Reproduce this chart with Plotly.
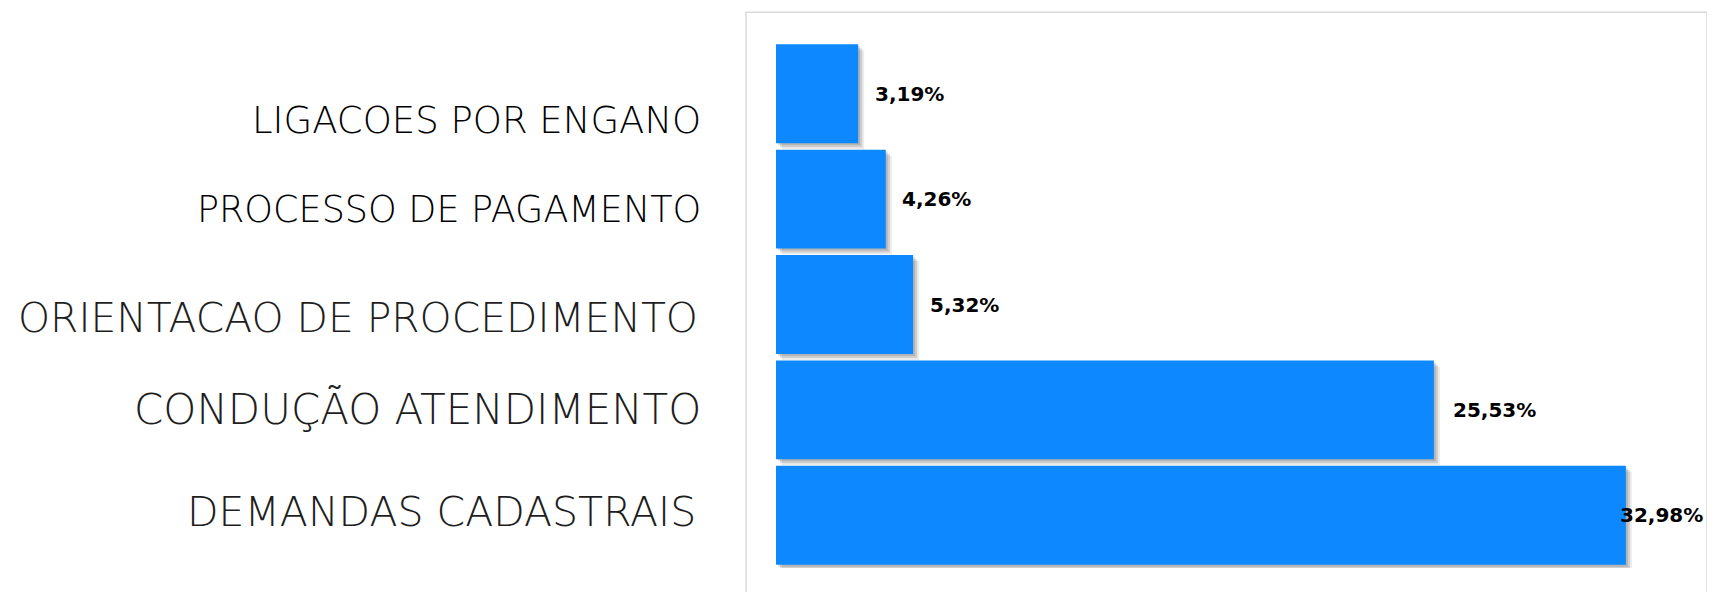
import plotly.graph_objects as go

# data, bottom to top
categories = [
    "DEMANDAS CADASTRAIS",
    "CONDUÇÃO ATENDIMENTO",
    "ORIENTACAO DE PROCEDIMENTO",
    "PROCESSO DE PAGAMENTO",
    "LIGACOES POR ENGANO",
]
shares = [32.98, 25.53, 5.32, 4.26, 3.19]

BAR_COLOR = "#0D88FF"
W, H = 1715, 592
PAGE_PAD = 8  # default body margin of the html page
PLOT_L, PLOT_R = 776, 1706
PLOT_T, PLOT_B = 40.75, 568.25
PX_PER_UNIT = 25.77
BAR_W = 0.938
ROW_PX = (PLOT_B - PLOT_T) / len(categories)

# label styling per row (bottom to top): font size, colour, right edge px, y shift px
label_style = [
    (41, "#1e1e1e", 698, 3),
    (42, "#1e1e1e", 703, 0),
    (40.8, "#1e1e1e", 700, -13),
    (36.5, "#000000", 703, -10),
    (37, "#000000", 703, -27),
]
value_shift = [-8, 17, 15, 14, 15]

fig = go.Figure()

# soft drop shadow under each bar
for dx, dy, alpha in [(2, 2, 0.12), (4, 4, 0.12), (6, 6, 0.08)]:
    fig.add_trace(
        go.Bar(
            y=categories,
            x=shares,
            base=dx / PX_PER_UNIT,
            orientation="h",
            width=BAR_W,
            offset=-BAR_W / 2 - dy / ROW_PX,
            marker=dict(color=f"rgba(0,0,0,{alpha})", line=dict(width=0)),
            hoverinfo="skip",
            showlegend=False,
        )
    )

fig.add_trace(
    go.Bar(
        y=categories,
        x=shares,
        orientation="h",
        width=BAR_W,
        offset=-BAR_W / 2,
        marker=dict(color=BAR_COLOR, line=dict(width=0)),
        showlegend=False,
    )
)

annotations = []
for cat, val, shift in zip(categories, shares, value_shift):
    annotations.append(
        dict(
            x=val,
            y=cat,
            xref="x",
            yref="y",
            text=f"{val:.2f}".replace(".", ",") + "%",
            showarrow=False,
            xanchor="left",
            xshift=shift,
            font=dict(family="DejaVu Sans", size=20, color="#000000", weight="bold"),
        )
    )

for cat, (size, color, right, yshift) in zip(categories, label_style):
    annotations.append(
        dict(
            x=0,
            y=cat,
            xref="paper",
            yref="y",
            text=cat,
            showarrow=False,
            xanchor="right",
            xshift=right - PLOT_L,
            yshift=yshift,
            font=dict(family="DejaVu Sans", size=size, color=color, weight=300),
        )
    )

plot_w = PLOT_R - PLOT_L
plot_h = PLOT_B - PLOT_T
fig.add_shape(
    type="rect",
    xref="paper",
    yref="paper",
    x0=(746 - PLOT_L) / plot_w,
    x1=(1707 - PLOT_L) / plot_w,
    y0=-0.3,
    y1=1 + (PLOT_T - 12) / plot_h,
    line=dict(color="#d9d9d9", width=1.5),
    layer="below",
)

fig.update_layout(
    width=W - PAGE_PAD,
    height=H - PAGE_PAD,
    barmode="overlay",
    plot_bgcolor="white",
    paper_bgcolor="white",
    margin=dict(
        l=PLOT_L - PAGE_PAD,
        r=W - PLOT_R,
        t=PLOT_T - PAGE_PAD,
        b=H - PLOT_B,
        pad=0,
    ),
    xaxis=dict(
        range=[0, plot_w / PX_PER_UNIT],
        showgrid=False,
        zeroline=False,
        showticklabels=False,
        fixedrange=True,
    ),
    yaxis=dict(
        type="category",
        range=[-0.5, len(categories) - 0.5],
        showgrid=False,
        zeroline=False,
        showticklabels=False,
        fixedrange=True,
    ),
    annotations=annotations,
)

fig.write_html("out.html")
